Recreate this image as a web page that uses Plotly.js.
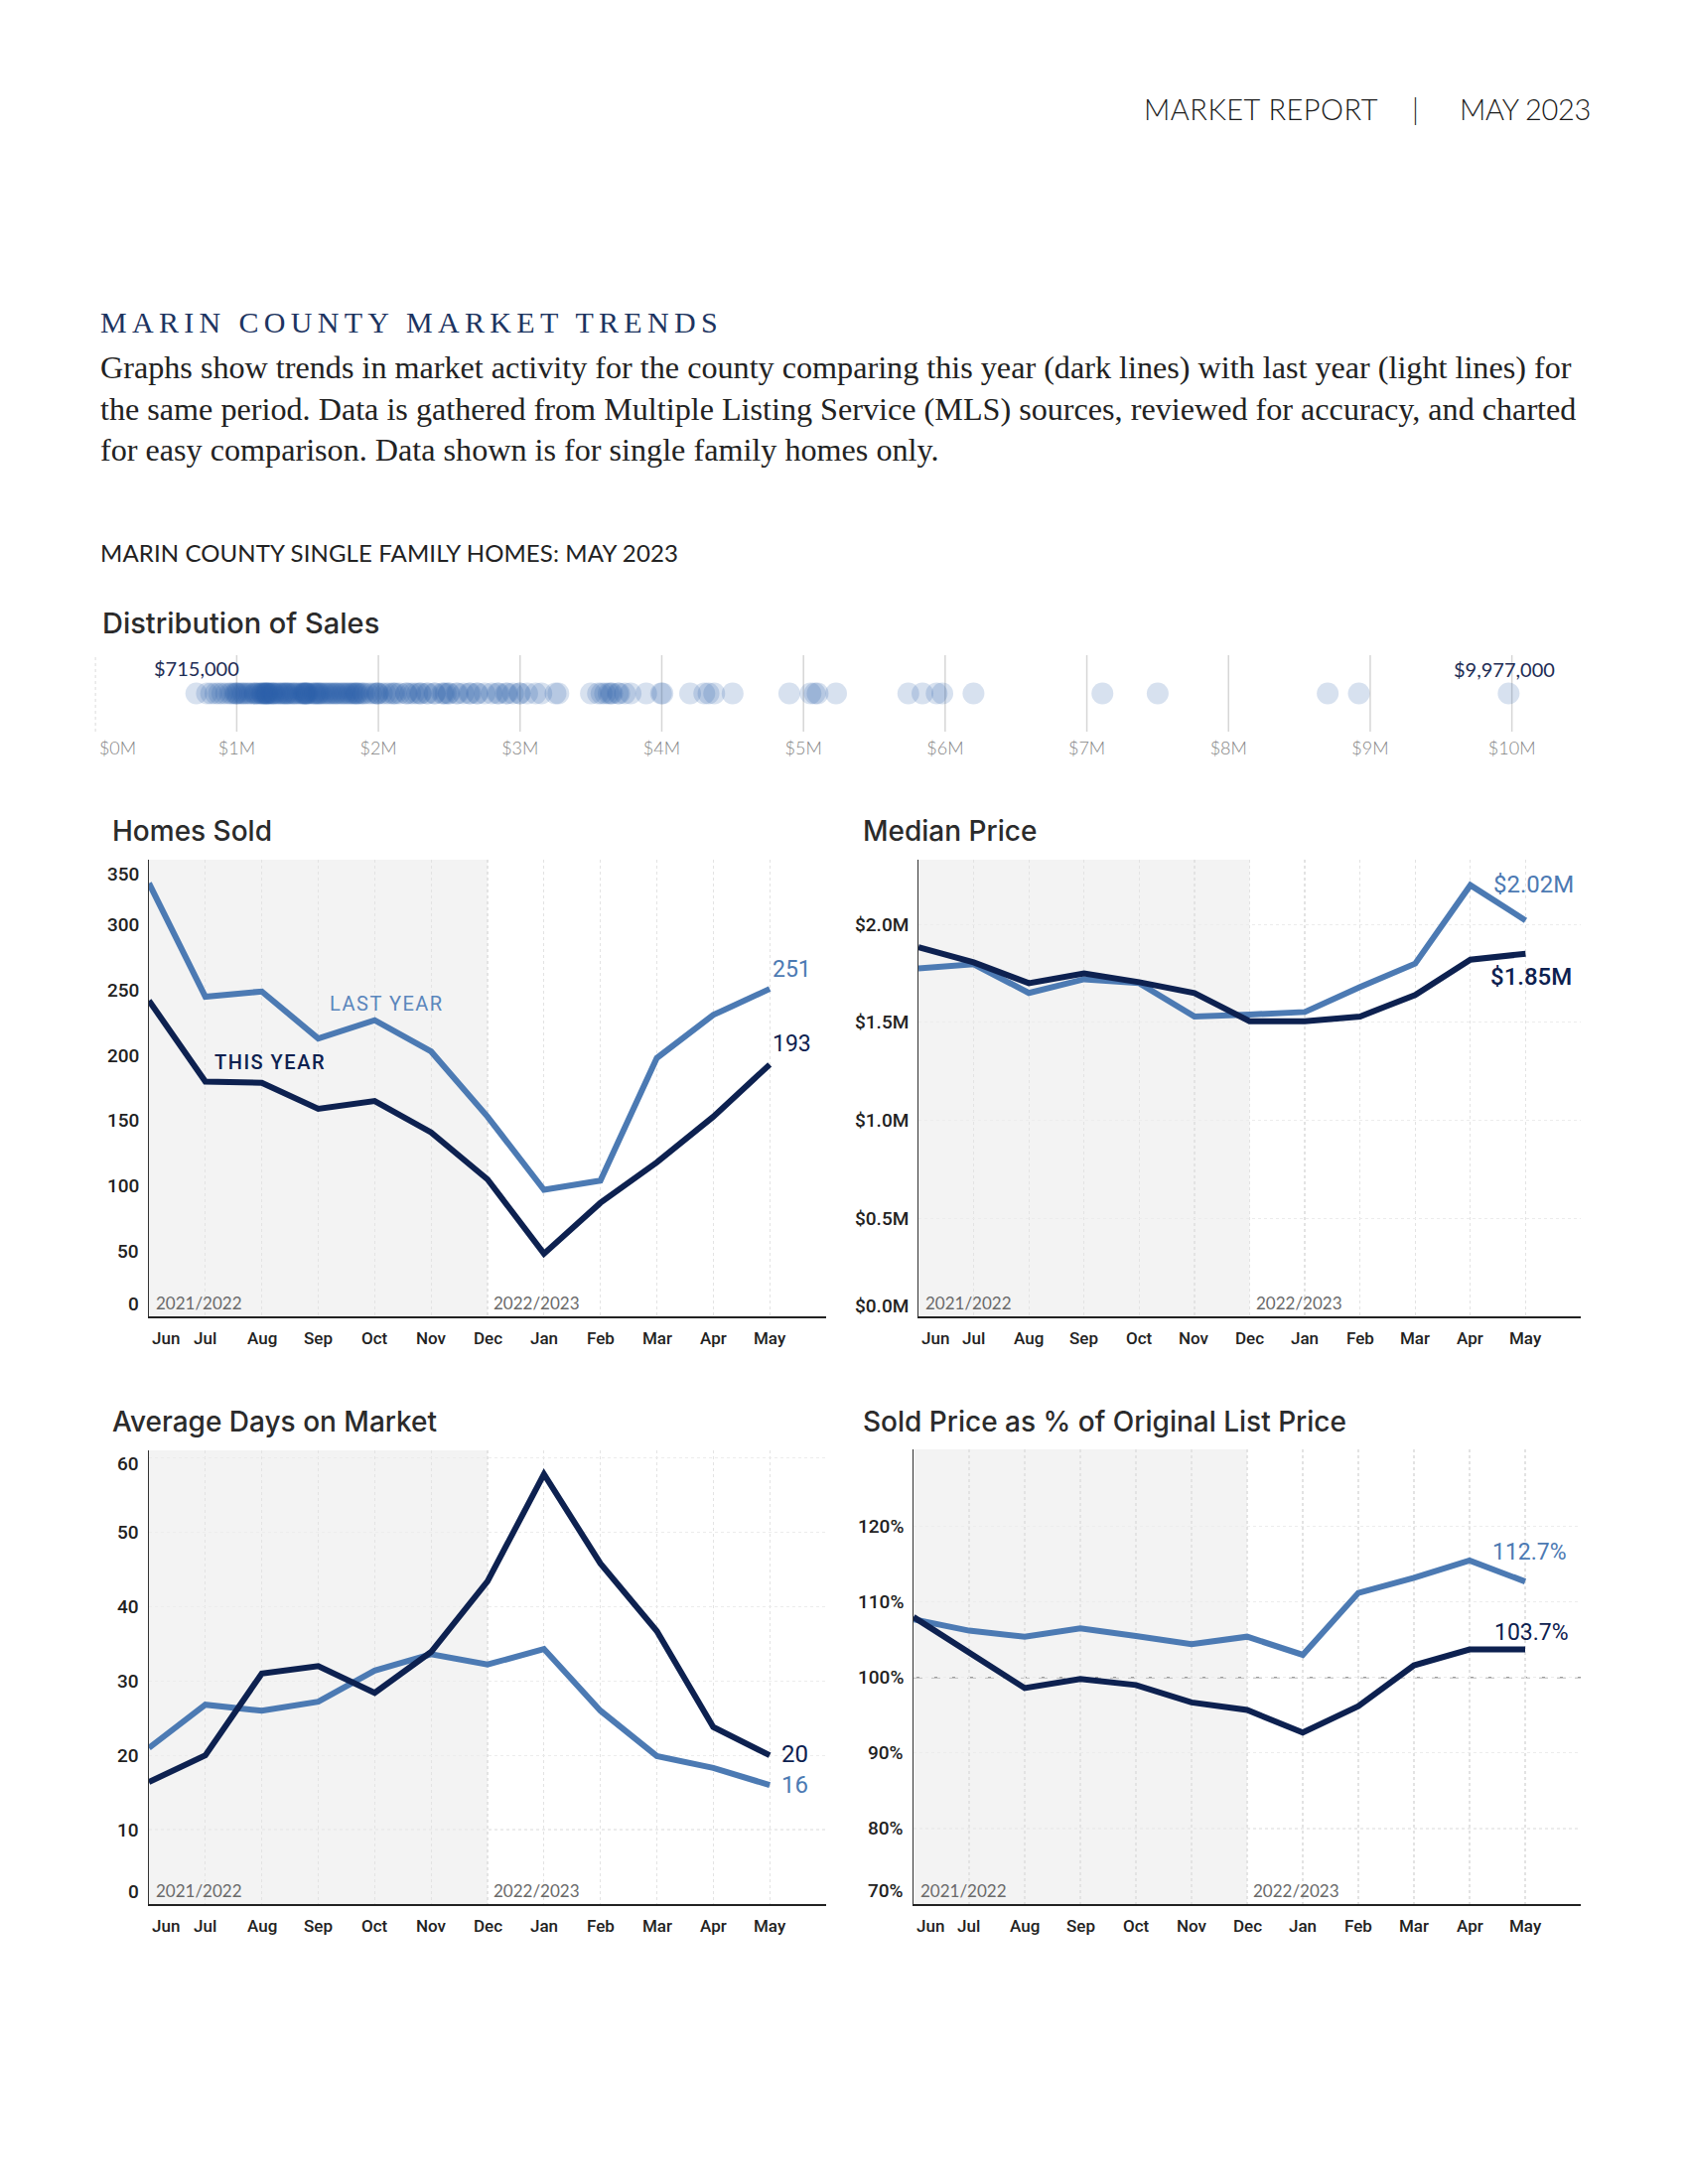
<!DOCTYPE html>
<html><head><meta charset="utf-8">
<script src="https://cdn.plot.ly/plotly-3.0.1.min.js"></script>
<style>
body{margin:0;background:#fff;}
#page{position:relative;width:1700px;height:2200px;overflow:hidden;background:#fff;}
#chart{position:absolute;left:0;top:0;width:1700px;height:2200px;}
.t{position:absolute;white-space:nowrap;z-index:5;}
.t span{display:inline-block;}
</style></head><body>
<div id="page">
<div id="chart"></div>
<div class="t" id="hdr1" style="left:1152px;top:92px;font-family:Lato;font-weight:300;font-size:29px;line-height:36px;color:#1a1a1a"><span>MARKET REPORT</span></div>
<div class="t" id="hdr2" style="left:1422px;top:92px;font-family:Lato;font-weight:300;font-size:29px;line-height:36px;color:#1a1a1a"><span>|</span></div>
<div class="t" id="hdr3" style="left:1470px;top:92px;font-family:Lato;font-weight:300;font-size:29px;line-height:36px;color:#1a1a1a"><span>MAY 2023</span></div>
<div class="t" id="sect" style="left:101px;top:307px;font-family:'Liberation Serif';font-size:30px;line-height:36px;color:#1d3461"><span>MARIN COUNTY MARKET TRENDS</span></div>
<div class="t para" id="p1" style="left:101px;top:350px;font-family:'Liberation Serif';font-size:27.7px;line-height:41.5px;color:#222"><span>Graphs show trends in market activity for the county comparing this year (dark lines) with last year (light lines) for</span></div>
<div class="t para" id="p2" style="left:101px;top:391.5px;font-family:'Liberation Serif';font-size:27.7px;line-height:41.5px;color:#222"><span>the same period. Data is gathered from Multiple Listing Service (MLS) sources, reviewed for accuracy, and charted</span></div>
<div class="t para" id="p3" style="left:101px;top:433px;font-family:'Liberation Serif';font-size:27.7px;line-height:41.5px;color:#222"><span>for easy comparison. Data shown is for single family homes only.</span></div>
<div class="t" id="sub" style="left:101px;top:542px;font-family:Lato;font-weight:400;font-size:24px;line-height:30px;color:#222"><span>MARIN COUNTY SINGLE FAMILY HOMES: MAY 2023</span></div>
</div>
<script>
// ---------------- DATA ----------------
const months = ['Jun','Jul','Aug','Sep','Oct','Nov','Dec','Jan','Feb','Mar','Apr','May'];
const homesThisYear = [242,180,179,159,165,141,105,48,87,118,153,193];
const homesLastYear = [332,245,249,213,227,203,153,97,104,198,231,251];
const medianThisYear = [1.884,1.806,1.700,1.750,1.705,1.650,1.506,1.506,1.530,1.640,1.820,1.850]; // $M
const medianLastYear = [1.775,1.797,1.650,1.720,1.700,1.530,1.540,1.553,1.680,1.800,2.200,2.020]; // $M
const daysThisYear = [16.4,20.0,31.0,32.0,28.4,33.9,43.4,57.8,45.8,36.7,23.8,20.0];
const daysLastYear = [21.0,26.8,26.0,27.2,31.4,33.6,32.2,34.3,26.0,19.9,18.3,16.0];
const pctThisYear = [108.0,103.3,98.6,99.8,99.0,96.7,95.7,92.7,96.2,101.6,103.7,103.7];
const pctLastYear = [107.7,106.2,105.4,106.5,105.5,104.4,105.4,103.0,111.2,113.2,115.5,112.7];
const salePricesK = [
715,790,820,850,875,899,925,950,965,985,995,1000,1010,1025,1040,1050,1065,1080,1095,1110,1125,1130,1140,1150,1160,1175,1180,1185,1195,1200,1205,1210,1215,1220,1225,1235,1245,1250,1260,1265,1275,1290,1300,1310,1325,1330,1340,1350,1355,1365,1375,1390,1400,1410,1420,1435,1450,1460,1470,1475,1480,1485,1490,1495,1500,1510,1525,1540,1550,1555,1565,1575,1580,1590,1600,1615,1625,1640,1650,1665,1675,1690,1700,1710,1725,1740,1750,1765,1775,1790,1800,1815,1825,1835,1845,1850,
1860,1875,1890,1900,1925,1950,1975,1990,1995,2000,2025,2050,2075,2100,2110,2125,2150,2195,2200,2225,2250,2275,2295,2300,2340,2350,2395,2400,2450,2460,2475,2495,2500,2550,2560,2600,2640,2650,2695,2700,2750,2800,2840,2850,2900,2910,2950,2995,3000,3050,3110,3150,3250,
3270,3500,3550,3575,3600,3625,3640,3650,3690,3700,3740,3780,3890,3995,4005,
4200,4300,4330,4370,4500,4900,5050,5080,5100,5230,5740,5840,5940,5980,6200,7110,7500,8700,8920,9977];
const stripTicks = [0,1,2,3,4,5,6,7,8,9,10];
const stripTickText = ['$0M','$1M','$2M','$3M','$4M','$5M','$6M','$7M','$8M','$9M','$10M'];
const homesTicks = [0,50,100,150,200,250,300,350];
const homesTickText = ['0','50','100','150','200','250','300','350'];
const medianTicks = [0,0.5,1.0,1.5,2.0];
const medianTickText = ['$0.0M','$0.5M','$1.0M','$1.5M','$2.0M'];
const daysTicks = [0,10,20,30,40,50,60];
const daysTickText = ['0','10','20','30','40','50','60'];
const pctTicks = [70,80,90,100,110,120];
const pctTickText = ['70%','80%','90%','100%','110%','120%'];

// ---------------- HTML text fitting ----------------
function spanOf(id){ return document.querySelector('#' + id + ' span'); }
function fitSpacing(id, target){
  const s = spanOf(id); const w = s.getBoundingClientRect().width; const n = s.textContent.length;
  s.style.letterSpacing = ((target - w) / n) + 'px';
}
function fitSize(ids, target){
  const s = spanOf(ids[0]); const w = s.getBoundingClientRect().width;
  const fs = parseFloat(getComputedStyle(s).fontSize); const nf = fs * target / w;
  ids.forEach(id => { document.getElementById(id).style.fontSize = nf + 'px'; });
}
try {
  fitSpacing('hdr1', 236);
  fitSpacing('hdr3', 132);
  fitSpacing('sect', 627);
  fitSize(['p1','p2','p3'], 1481);
  fitSpacing('sub', 582);
} catch (e) { console.log(e); }

// ---------------- LAYOUT ----------------
const W = 1700, H = 2200;
const px = v => v / W, py = v => 1 - v / H;
const DARK = '#0d2150', LIGHT = '#4c7ab3';
const TICKFONT = {family:'Roboto, sans-serif', size:19, color:'#222', weight:500};
const MONTHFONT = {family:'Roboto, sans-serif', size:17, color:'#222', weight:500};

const layout = {
  width: W, height: H, margin:{l:0,r:0,t:0,b:0},
  paper_bgcolor:'rgba(0,0,0,0)', plot_bgcolor:'rgba(0,0,0,0)',
  showlegend:false, shapes:[], annotations:[],
  xaxis:{domain:[px(95.7),px(1594)], range:[0,10.5], showgrid:false, zeroline:false, showline:false,
    tickmode:'array', tickvals: stripTicks.map(v => v === 0 ? 0.16 : v), ticktext: stripTickText,
    tickfont:{family:'Lato, sans-serif', size:18, color:'#858585', weight:300}, ticks:'', ticklabelstandoff:4, anchor:'y'},
  yaxis:{domain:[py(737),py(660)], range:[-1,1], visible:false, anchor:'x'}
};

// strip gridlines
stripTicks.forEach(v => {
  layout.shapes.push({type:'line', xref:'x', yref:'paper', x0:v, x1:v, y0:py(737), y1:py(660),
    line:{color: v === 0 ? '#cfcfcf' : '#d6d6d6', width:1.5, dash: v === 0 ? 'dot' : 'solid'}, layer:'below'});
});

const charts = [
  {n:2, x:[150,832], y:[866,1326], range:[0,350], ticks:homesTicks, text:homesTickText, this:homesThisYear, last:homesLastYear,
   title:'Homes Sold', tx:111, ty:837, hgrid:false, nudge:{0:13, 350:-15}},
  {n:3, x:[925,1592], y:[866,1326], range:[0,2.33], ticks:medianTicks, text:medianTickText, this:medianThisYear, last:medianLastYear,
   title:'Median Price', tx:867, ty:837, hgrid:true, nudge:{0:11}},
  {n:4, x:[150,832], y:[1461,1918], range:[0,61], ticks:daysTicks, text:daysTickText, this:daysThisYear, last:daysLastYear,
   title:'Average Days on Market', tx:111, ty:1432, hgrid:true, nudge:{0:13, 60:-6}},
  {n:5, x:[920,1592], y:[1460,1918], range:[70,130.2], ticks:pctTicks, text:pctTickText, this:pctThisYear, last:pctLastYear,
   title:'Sold Price as % of Original List Price', tx:867, ty:1432, hgrid:true, nudge:{70:14}}
];

const data = [];
// strip dots
const salesM = salePricesK.map(v => v / 1000);
data.push({type:'scatter', mode:'markers', x: salesM, y: salesM.map(() => 0), xaxis:'x', yaxis:'y',
  marker:{size:22, color:'rgba(40,95,170,0.19)', line:{width:0}}, cliponaxis:false, hoverinfo:'skip'});

const fmt = k => '$' + (k * 1000).toLocaleString('en-US');
const minK = Math.min(...salePricesK), maxK = Math.max(...salePricesK);
layout.annotations.push({xref:'x', yref:'y', x:minK/1000, y:0, yshift:26, text:fmt(minK), showarrow:false,
  font:{family:'Lato, sans-serif', size:20, color:'#1e2d55'}, xanchor:'center', yanchor:'middle'});
layout.annotations.push({xref:'x', yref:'y', x:maxK/1000, y:0, yshift:25, xshift:-4, text:fmt(maxK), showarrow:false,
  font:{family:'Lato, sans-serif', size:20, color:'#1e2d55'}, xanchor:'center', yanchor:'middle'});
layout.annotations.push({xref:'paper', yref:'paper', x:px(101), y:py(628), text:'Distribution of Sales', showarrow:false,
  xanchor:'left', yanchor:'middle', font:{family:'Inter, sans-serif', size:29, color:'#2b2b2b', weight:500}});

charts.forEach(c => {
  const xa = 'xaxis' + c.n, ya = 'yaxis' + c.n, xr = 'x' + c.n, yr = 'y' + c.n;
  layout[xa] = {domain:[px(c.x[0]), px(c.x[1])], type:'category', range:[0,12], autorange:false,
    showgrid:true, gridcolor:'#e3e3e3', griddash:'dot', gridwidth:1.2, zeroline:false,
    showline:true, linecolor:'#222', linewidth:2, showticklabels:false, ticks:'', anchor:yr};
  layout[ya] = {domain:[py(c.y[1]), py(c.y[0])], range:c.range, autorange:false,
    tickmode:'array', tickvals:c.ticks, showticklabels:false, ticks:'',
    showgrid:c.hgrid, gridcolor:'#ececec', griddash:'dot', gridwidth:1.2, zeroline:false,
    showline:true, linecolor:'#333', linewidth:1.5, anchor:xr};
  // shaded prior-year region (Jun..Dec)
  layout.shapes.push({type:'rect', xref:xr, yref:yr + ' domain', x0:0, x1:6, y0:0, y1:1,
    fillcolor:'#f3f3f3', line:{width:0}, layer:'below'});
  data.push({type:'scatter', mode:'lines', x:months, y:c.last, xaxis:xr, yaxis:yr,
    line:{color:LIGHT, width:6}, cliponaxis:false, hoverinfo:'skip'});
  data.push({type:'scatter', mode:'lines', x:months, y:c.this, xaxis:xr, yaxis:yr,
    line:{color:DARK, width:6}, cliponaxis:false, hoverinfo:'skip'});
  // title
  layout.annotations.push({xref:'paper', yref:'paper', x:px(c.tx), y:py(c.ty), text:c.title, showarrow:false,
    xanchor:'left', yanchor:'middle', font:{family:'Inter, sans-serif', size:28, color:'#2b2b2b', weight:500}});
  // y tick labels
  c.ticks.forEach((v, i) => {
    layout.annotations.push({xref:xr + ' domain', x:0, xshift:-8, xanchor:'right', yref:yr, y:v,
      yshift: c.nudge[v] || 0, yanchor:'middle', text:c.text[i], showarrow:false, font:TICKFONT});
  });
  // month labels
  months.forEach((m, i) => {
    layout.annotations.push({xref:xr, x:m, xshift: i === 0 ? 17 : 0, yref:yr + ' domain', y:0, yshift:-22,
      yanchor:'middle', xanchor:'center', text:m, showarrow:false, font:MONTHFONT});
  });
  // season labels
  layout.annotations.push({xref:xr + ' domain', x:0, xshift:5, xanchor:'left', yref:yr + ' domain', y:0, yshift:14,
    yanchor:'middle', text:'2021/2022', showarrow:false, font:{family:'Lato, sans-serif', size:17, color:'#6a6a6a'}});
  layout.annotations.push({xref:xr, x:6, xshift:4, xanchor:'left', yref:yr + ' domain', y:0, yshift:14,
    yanchor:'middle', text:'2022/2023', showarrow:false, font:{family:'Lato, sans-serif', size:17, color:'#6a6a6a'}});
});

// 100% reference line (drawn after the shading rect, same layer)
layout.shapes.push({type:'line', xref:'x5', yref:'y5', x0:0, x1:12, y0:100, y1:100,
  line:{color:'#9c9c9c', width:1.6, dash:'dash'}, layer:'below'});

const endFont = (col, sz, wt) => ({family:'Roboto, sans-serif', size:sz, color:col, weight:wt || 400});
const last = a => a[a.length - 1];
// series labels on Homes Sold
layout.annotations.push({xref:'x2', yref:'y2', x:4.22, y:240, text:'<span style="letter-spacing:1.5px">LAST YEAR</span>', showarrow:false,
  font:{family:'Roboto, sans-serif', size:20, color:'#5a86bc'}});
layout.annotations.push({xref:'x2', yref:'y2', x:2.14, y:195, text:'<span style="letter-spacing:1.5px">THIS YEAR</span>', showarrow:false,
  font:{family:'Roboto, sans-serif', size:20, color:DARK, weight:500}});
// end labels
layout.annotations.push({xref:'x2', yref:'y2', x:11.4, y:266, text:String(last(homesLastYear)), showarrow:false, font:endFont(LIGHT,23)});
layout.annotations.push({xref:'x2', yref:'y2', x:11.4, y:209, text:String(last(homesThisYear)), showarrow:false, font:endFont(DARK,23)});
layout.annotations.push({xref:'x3', yref:'y3', x:11.15, y:2.205, text:'$' + last(medianLastYear).toFixed(2) + 'M', showarrow:false, font:endFont(LIGHT,24)});
layout.annotations.push({xref:'x3', yref:'y3', x:11.1, y:1.733, text:'$' + last(medianThisYear).toFixed(2) + 'M', showarrow:false, font:endFont(DARK,24,500)});
layout.annotations.push({xref:'x4', yref:'y4', x:11.18, xanchor:'left', y:20.1, text:String(Math.round(last(daysThisYear))), showarrow:false, font:endFont(DARK,24)});
layout.annotations.push({xref:'x4', yref:'y4', x:11.18, xanchor:'left', y:16.0, text:String(Math.round(last(daysLastYear))), showarrow:false, font:endFont(LIGHT,24)});
layout.annotations.push({xref:'x5', yref:'y5', x:11.08, y:116.6, text:last(pctLastYear).toFixed(1) + '%', showarrow:false, font:endFont(LIGHT,23)});
layout.annotations.push({xref:'x5', yref:'y5', x:11.12, y:106.0, text:last(pctThisYear).toFixed(1) + '%', showarrow:false, font:endFont(DARK,23)});

try {
  Plotly.newPlot('chart', data, layout, {staticPlot:true, displayModeBar:false});
} catch (e) { console.log(e); }
</script>
</body></html>
